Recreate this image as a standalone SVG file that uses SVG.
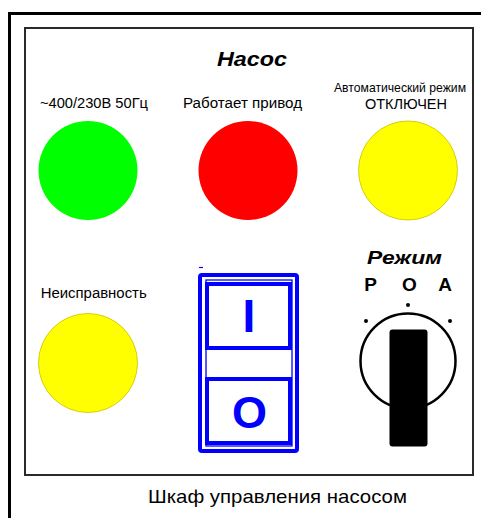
<svg xmlns="http://www.w3.org/2000/svg" width="481" height="518" viewBox="0 0 481 518">
<style>
text{font-family:"Liberation Sans",Arial,sans-serif;fill:#000}
.lbl{font-size:14px}
.bi{font-weight:bold;font-style:italic}
.blue{fill:none;stroke:#0000ff}
.sw{font-weight:bold;fill:#0000ff;text-anchor:middle}
.poa{font-weight:bold;font-size:19px;text-anchor:middle}
</style>
<rect width="481" height="518" fill="#fff"/>
<g id="frame">
<path d="M9.5 518V13.5H485" fill="none" stroke="#000" stroke-width="3"/>
<rect x="25" y="28" width="448" height="447" fill="none" stroke="#2a2a2a" stroke-width="2"/>
</g>
<g id="title"><text x="252" y="66" class="bi" font-size="21" text-anchor="middle" textLength="70" lengthAdjust="spacingAndGlyphs">Насос</text></g>
<g id="lamp-power">
<text x="94" y="108" class="lbl" text-anchor="middle" textLength="108" lengthAdjust="spacingAndGlyphs">~400/230В 50Гц</text>
<circle cx="88" cy="170.5" r="49.5" fill="#00ff00"/>
</g>
<g id="lamp-run">
<text x="242.5" y="108" class="lbl" text-anchor="middle" textLength="119" lengthAdjust="spacingAndGlyphs">Работает привод</text>
<circle cx="248" cy="170.5" r="49.5" fill="#ff0000"/>
</g>
<g id="lamp-auto">
<text x="400" y="92" font-size="13" text-anchor="middle" textLength="132" lengthAdjust="spacingAndGlyphs">Автоматический режим</text>
<text x="406" y="109" class="lbl" text-anchor="middle" textLength="82" lengthAdjust="spacingAndGlyphs">ОТКЛЮЧЕН</text>
<circle cx="408" cy="170.5" r="49.5" fill="#ffff00" stroke="#c8c000" stroke-width="0.8"/>
</g>
<g id="lamp-fault">
<text x="93.7" y="298" class="lbl" text-anchor="middle" textLength="106" lengthAdjust="spacingAndGlyphs">Неисправность</text>
<circle cx="88" cy="363" r="49.5" fill="#ffff00" stroke="#c8c000" stroke-width="0.8"/>
</g>
<g id="switch">
<line x1="199" y1="267.5" x2="203" y2="267.5" stroke="#0000ff" stroke-width="1.2"/>
<rect x="200" y="275" width="97" height="176" rx="2" class="blue" stroke-width="4"/>
<rect x="206" y="280" width="86" height="166" class="blue" stroke-width="1.3"/>
<rect x="207" y="284" width="83" height="64" class="blue" stroke-width="4"/>
<rect x="207" y="379" width="83" height="64" class="blue" stroke-width="4"/>
<text x="249" y="332" class="sw" font-size="46">I</text>
<text x="249.5" y="428" class="sw" font-size="45">O</text>
</g>
<g id="selector">
<text x="404.5" y="264" class="bi" font-size="19" text-anchor="middle" textLength="75" lengthAdjust="spacingAndGlyphs">Режим</text>
<text x="370.5" y="291" class="poa">Р</text>
<text x="409.5" y="291" class="poa">О</text>
<text x="445" y="291" class="poa">А</text>
<circle cx="408" cy="305" r="2" fill="#000"/>
<circle cx="366" cy="321" r="2" fill="#000"/>
<circle cx="450" cy="321" r="2" fill="#000"/>
<circle cx="408" cy="361" r="47.5" fill="none" stroke="#000" stroke-width="2.5"/>
<rect x="389.5" y="329.5" width="38" height="117" rx="3" fill="#000"/>
</g>
<g id="caption"><text x="277.5" y="503" font-size="19" text-anchor="middle" textLength="259" lengthAdjust="spacingAndGlyphs">Шкаф управления насосом</text></g>
</svg>
